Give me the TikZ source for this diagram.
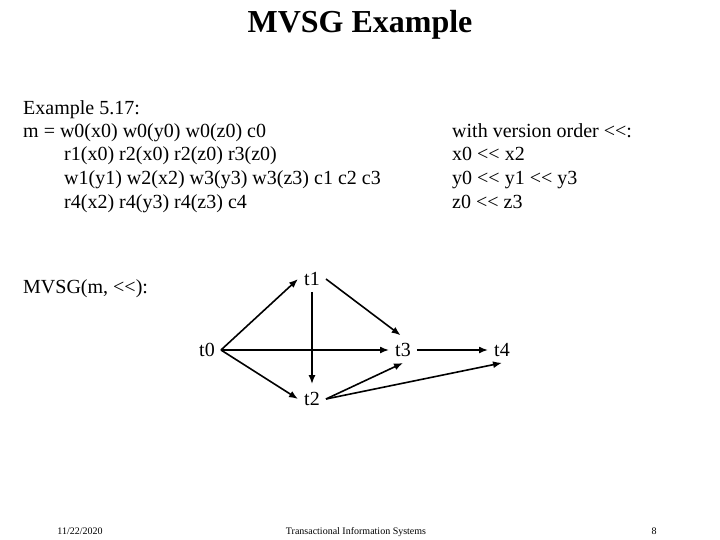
\documentclass[tikz,border=0pt]{standalone}
\usepackage{fontspec}
\setmainfont{Liberation Serif}
\usetikzlibrary{arrows.meta}
\begin{document}
\begin{tikzpicture}[x=1pt,y=-1pt,
  txt/.style={anchor=base west,inner sep=0pt,font=\fontsize{20}{24}\selectfont},
  foot/.style={anchor=base,inner sep=0pt,font=\fontsize{10}{12}\selectfont},
  tnode/.style={inner sep=6pt,font=\fontsize{20}{24}\selectfont},
  arr/.style={line width=1.6pt,-{Latex[length=9pt,width=7pt]}}]
\useasboundingbox (0,0) rectangle (720,540);
\node[anchor=base,inner sep=0pt,font=\fontsize{32}{36}\selectfont\bfseries] (title) at (360,33) {MVSG Example};
\node[txt] (l1) at (23,115) {Example 5.17:};
\node[txt] (l2) at (23,138) {m = w0(x0) w0(y0) w0(z0) c0};
\node[txt] (l3) at (64,161) {r1(x0) r2(x0) r2(z0) r3(z0)};
\node[txt] (l4) at (64,185) {w1(y1) w2(x2) w3(y3) w3(z3) c1 c2 c3};
\node[txt] (l5) at (64,209) {r4(x2) r4(y3) r4(z3) c4};
\node[txt] (v1) at (452,138) {with version order <{}<:};
\node[txt] (v2) at (452,161) {x0 <{}< x2};
\node[txt] (v3) at (452,185) {y0 <{}< y1 <{}< y3};
\node[txt] (v4) at (452,209) {z0 <{}< z3};
\node[txt] (mvsg) at (23,293) {MVSG(m, <{}<):};
\node[tnode] (t0) at (207,350) {t0};
\node[tnode] (t1) at (312,279) {t1};
\node[tnode] (t2) at (312,399) {t2};
\node[tnode] (t3) at (403,350) {t3};
\node[tnode] (t4) at (502,350) {t4};
\draw[arr] (t0.east) -- (t1.west);
\draw[arr] (t0.east) -- (t3.west);
\draw[arr] (t0.east) -- (t2.west);
\draw[arr,shorten >=2pt] (t1.south) -- (t2.north);
\draw[arr,shorten >=3pt] (t1.east) -- (t3.north);
\draw[arr] (t3.east) -- (t4.west);
\draw[arr] (t2.east) -- (t3.south);
\draw[arr] (t2.east) -- (t4.south);
\node[foot] (date) at (80,534) {11/22/2020};
\node[foot] (mid) at (356,534) {Transactional Information Systems};
\node[foot] (page) at (654,534) {8};
\end{tikzpicture}
\end{document}
